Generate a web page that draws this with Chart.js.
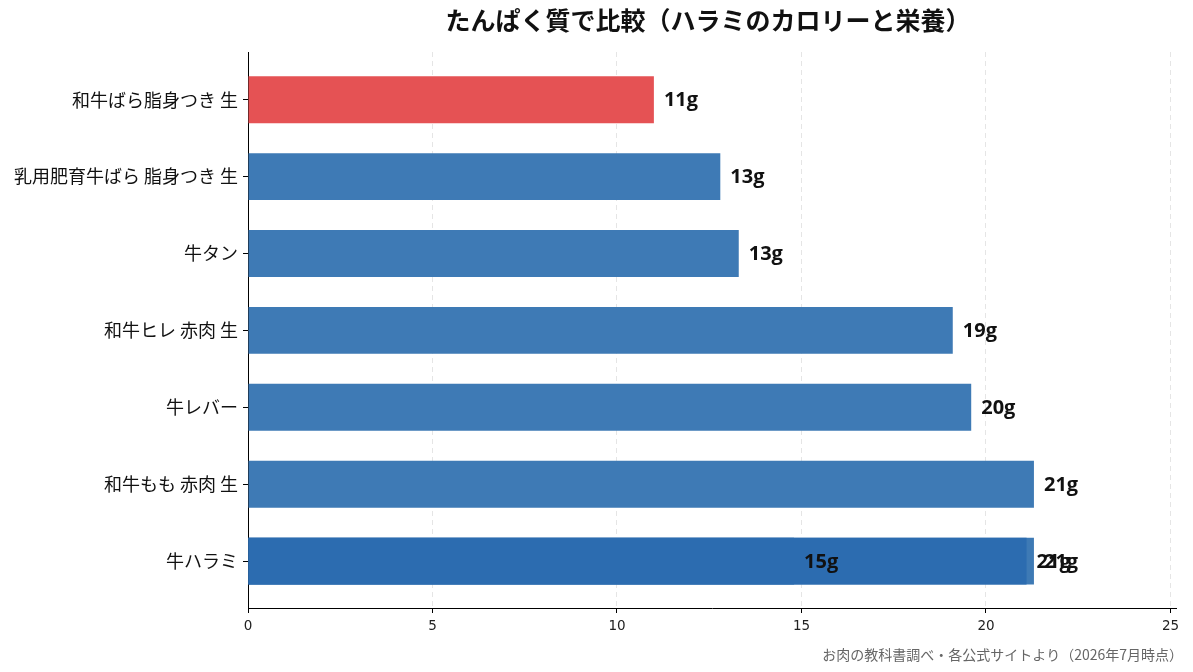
<html>
<head>
<meta charset="utf-8">
<script src="https://cdn.jsdelivr.net/npm/chart.js@4.4.0/dist/chart.umd.min.js"></script>
<style>
  body { margin: 0; background: #fff; }
  #wrap { width: 1193px; height: 672px; }
</style>
</head>
<body>
<div id="wrap"><canvas id="myChart"></canvas></div>
<script>
// categories, top to bottom
var categories = ['和牛ばら脂身つき 生', '乳用肥育牛ばら 脂身つき 生', '牛タン', '和牛ヒレ 赤肉 生', '牛レバー', '和牛もも 赤肉 生', '牛ハラミ'];
// protein per 100g
var protein = [11.0, 12.8, 13.3, 19.1, 19.6, 21.3, 21.3];
// ハラミ overlay bars (drawn on top of the bottom row)
var haramiLow = 14.8;
var haramiHigh = 21.1;
var xTicks = [0, 5, 10, 15, 20, 25];
var titleText = 'たんぱく質で比較（ハラミのカロリーと栄養）';
var sourceText = 'お肉の教科書調べ・各公式サイトより（2026年7月時点）';

var RED = 'rgb(229,82,84)';
var BLUE = 'rgb(62,122,181)';
var DARK = 'rgb(44,108,176)';

var jp = '"Noto Sans CJK JP", "Noto Sans", sans-serif';

var baseData = protein.map(function (v, i) { return { x: v, y: i }; });

var textPlugin = {
  id: 'texts',
  afterDatasetsDraw: function (chart) {
    var ctx = chart.ctx;
    ctx.save();
    ctx.fillStyle = '#111';
    ctx.font = 'bold 20px "Open Sans", "Noto Sans", sans-serif';
    ctx.textAlign = 'left';
    ctx.textBaseline = 'middle';
    chart.data.datasets.forEach(function (ds, di) {
      var meta = chart.getDatasetMeta(di);
      meta.data.forEach(function (bar, i) {
        var v = ds.data[i].x;
        ctx.fillText(Math.round(v) + 'g', bar.x + 10, bar.y + 1);
      });
    });
    ctx.restore();
  },
  afterDraw: function (chart) {
    var ctx = chart.ctx;
    ctx.save();
    ctx.fillStyle = '#111';
    ctx.font = 'bold 25px ' + jp;
    ctx.textAlign = 'center';
    ctx.textBaseline = 'middle';
    ctx.fillText(titleText, 708, 20);
    ctx.fillStyle = '#666';
    ctx.font = '14px ' + jp;
    ctx.textAlign = 'right';
    ctx.fillText(sourceText, 1183, 655);
    ctx.restore();
  }
};

var ctx = document.getElementById('myChart').getContext('2d');
var chart = new Chart(ctx, {
  type: 'bar',
  data: {
    datasets: [{
      data: baseData,
      backgroundColor: protein.map(function (v, i) { return i === 0 ? RED : BLUE; }),
      grouped: false,
      order: 3,
      barPercentage: 0.61,
      categoryPercentage: 1
    }, {
      data: [{ x: haramiLow, y: 6 }],
      backgroundColor: DARK,
      grouped: false,
      order: 2,
      barPercentage: 0.61,
      categoryPercentage: 1
    }, {
      data: [{ x: haramiHigh, y: 6 }],
      backgroundColor: DARK,
      grouped: false,
      order: 1,
      barPercentage: 0.61,
      categoryPercentage: 1
    }]
  },
  plugins: [textPlugin],
  options: {
    indexAxis: 'y',
    responsive: true,
    maintainAspectRatio: false,
    animation: false,
    layout: { padding: { top: 52, right: 17, left: 0, bottom: 0 } },
    plugins: {
      legend: { display: false },
      tooltip: { enabled: false },
      title: { display: false }
    },
    scales: {
      x: {
        type: 'linear',
        min: 0,
        max: 25.15,
        offset: false,
        afterBuildTicks: function (scale) {
          scale.ticks = xTicks.map(function (v) { return { value: v }; });
        },
        afterFit: function (scale) { scale.height = 64; },
        grid: {
          offset: false,
          color: 'rgba(0,0,0,0.1)',
          lineWidth: 1,
          tickColor: '#000',
          tickLength: 5,
          tickBorderDash: []
        },
        border: { display: true, color: '#000', width: 1, dash: [5, 4] },
        ticks: {
          color: '#222',
          font: { family: '"DejaVu Sans", sans-serif', size: 13.5 },
          padding: 5,
          maxRotation: 0
        }
      },
      y: {
        type: 'linear',
        reverse: true,
        offset: false,
        min: -0.62,
        max: 6.61,
        afterBuildTicks: function (scale) {
          scale.ticks = categories.map(function (c, i) { return { value: i }; });
        },
        afterFit: function (scale) { scale.width = 248; },
        grid: {
          offset: false,
          drawOnChartArea: false,
          drawTicks: true,
          tickLength: 5,
          tickColor: '#000',
          color: '#000'
        },
        border: { display: true, color: '#000', width: 1 },
        ticks: {
          color: '#111',
          font: { family: jp, size: 18 },
          padding: 5,
          callback: function (value) { return categories[value]; }
        }
      }
    }
  }
});
</script>
</body>
</html>
